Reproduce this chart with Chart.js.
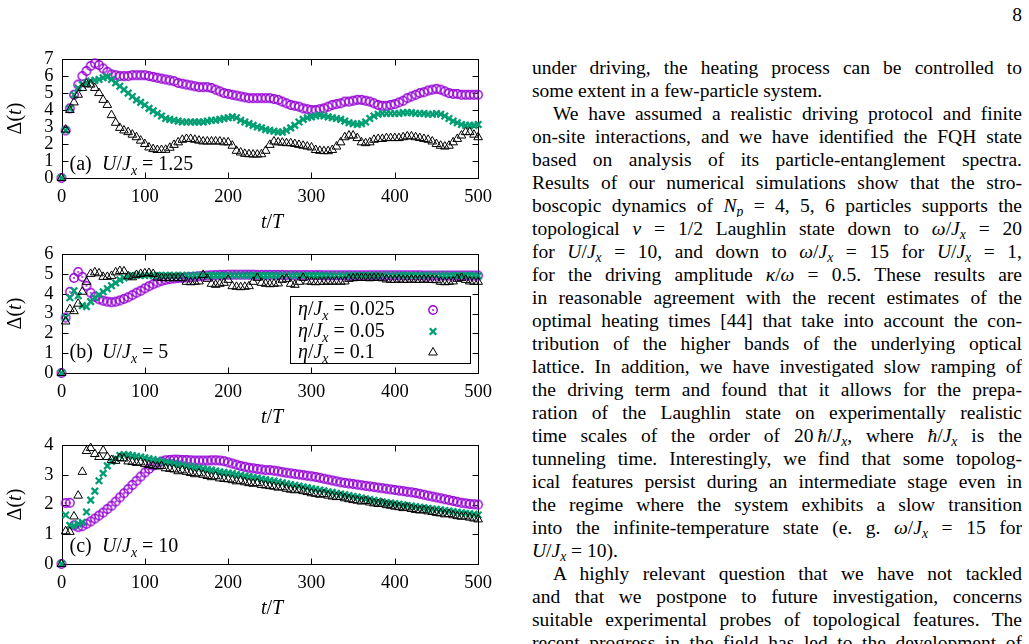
<!DOCTYPE html>
<html><head><meta charset="utf-8">
<script src="https://cdn.jsdelivr.net/npm/chart.js@4.4.1/dist/chart.umd.min.js"></script>
<style>
html,body{margin:0;padding:0;background:#fff;width:1029px;height:644px;overflow:hidden;position:relative;}
canvas.p{position:absolute;left:0;}
#col{position:absolute;left:532px;top:56px;width:490px;font-family:"Liberation Serif",serif;font-size:19.5px;color:#000;}
.ln{height:23px;line-height:23px;overflow:hidden;text-align:justify;text-align-last:justify;}
.ln.e{text-align-last:left;}
.ln.i{text-indent:21px;}
sub{font-size:70%;vertical-align:-0.3em;line-height:0;}
#pg{position:absolute;left:1000px;width:22px;text-align:right;top:3px;font-family:"Liberation Serif",serif;font-size:19.5px;line-height:23px;}
</style>
</head><body>
<canvas class="p" id="ca" width="500" height="195" style="top:40px"></canvas>
<canvas class="p" id="cb" width="500" height="195" style="top:235px"></canvas>
<canvas class="p" id="cc" width="500" height="195" style="top:426px"></canvas>
<div id="pg">8</div>
<div id="col">
<div class="ln">under driving, the heating process can be controlled to</div>
<div class="ln e">some extent in a few-particle system.</div>
<div class="ln i">We have assumed a realistic driving protocol and finite</div>
<div class="ln">on-site interactions, and we have identified the FQH state</div>
<div class="ln">based on analysis of its particle-entanglement spectra.</div>
<div class="ln">Results of our numerical simulations show that the stro-</div>
<div class="ln">boscopic dynamics of <i>N</i><sub><i>p</i></sub> = 4, 5, 6 particles supports the</div>
<div class="ln">topological <i>ν</i> = 1/2 Laughlin state down to <i>ω</i>/<i>J</i><sub><i>x</i></sub> = 20</div>
<div class="ln">for <i>U</i>/<i>J</i><sub><i>x</i></sub> = 10, and down to <i>ω</i>/<i>J</i><sub><i>x</i></sub> = 15 for <i>U</i>/<i>J</i><sub><i>x</i></sub> = 1,</div>
<div class="ln">for the driving amplitude <i>κ</i>/<i>ω</i> = 0.5. These results are</div>
<div class="ln">in reasonable agreement with the recent estimates of the</div>
<div class="ln">optimal heating times [44] that take into account the con-</div>
<div class="ln">tribution of the higher bands of the underlying optical</div>
<div class="ln">lattice. In addition, we have investigated slow ramping of</div>
<div class="ln">the driving term and found that it allows for the prepa-</div>
<div class="ln">ration of the Laughlin state on experimentally realistic</div>
<div class="ln">time scales of the order of 20&#8201;<i>ħ</i>/<i>J</i><sub><i>x</i></sub>, where <i>ħ</i>/<i>J</i><sub><i>x</i></sub> is the</div>
<div class="ln">tunneling time. Interestingly, we find that some topolog-</div>
<div class="ln">ical features persist during an intermediate stage even in</div>
<div class="ln">the regime where the system exhibits a slow transition</div>
<div class="ln">into the infinite-temperature state (e. g. <i>ω</i>/<i>J</i><sub><i>x</i></sub> = 15 for</div>
<div class="ln e"><i>U</i>/<i>J</i><sub><i>x</i></sub> = 10).</div>
<div class="ln i">A highly relevant question that we have not tackled</div>
<div class="ln">and that we postpone to future investigation, concerns</div>
<div class="ln">suitable experimental probes of topological features. The</div>
<div class="ln">recent progress in the field has led to the development of</div>
</div>
<script>
// ---- data ----
const tT = [0,5,10,15,20,25,30,35,40,45,50,55,60,65,70,75,80,85,90,95,100,105,110,115,120,125,130,135,140,145,150,155,160,165,170,175,180,185,190,195,200,205,210,215,220,225,230,235,240,245,250,255,260,265,270,275,280,285,290,295,300,305,310,315,320,325,330,335,340,345,350,355,360,365,370,375,380,385,390,395,400,405,410,415,420,425,430,435,440,445,450,455,460,465,470,475,480,485,490,495,500];
const etaLabels = ['0.025','0.05','0.1'];
const panelU = ['1.25','5','10'];
const panelTags = ['(a)','(b)','(c)'];
const yMaxes = [7,6,4];
const xTicks = [0,100,200,300,400,500];

// panel (a) U/Jx = 1.25
const a_eta0025 = [0,2.8,4.1,4.9,5.5,6.0,6.3,6.6,6.75,6.65,
6.45,6.25,6.1,6.05,6.0,6.0,6.0,6.05,6.05,6.05,
6.05,6.0,5.95,5.9,5.85,5.8,5.75,5.7,5.6,5.55,
5.5,5.45,5.4,5.35,5.35,5.35,5.3,5.2,5.1,5.0,
4.95,4.9,4.85,4.8,4.75,4.7,4.7,4.7,4.7,4.7,
4.7,4.65,4.6,4.5,4.4,4.3,4.25,4.2,4.1,4.05,
4.0,4.0,4.05,4.1,4.2,4.3,4.35,4.4,4.5,4.5,
4.55,4.6,4.6,4.55,4.5,4.4,4.3,4.25,4.25,4.3,
4.35,4.45,4.55,4.7,4.8,4.9,5.0,5.05,5.15,5.2,
5.25,5.2,5.1,5.0,4.95,4.95,4.9,4.9,4.9,4.9,
4.9];
const a_eta005 = [0,2.8,4.1,4.9,5.3,5.5,5.6,5.7,5.75,5.8,
5.9,5.95,5.8,5.6,5.4,5.2,5.0,4.8,4.6,4.45,
4.3,4.1,3.95,3.8,3.65,3.5,3.45,3.4,3.35,3.3,
3.3,3.3,3.3,3.3,3.3,3.35,3.4,3.4,3.45,3.5,
3.55,3.6,3.55,3.4,3.3,3.2,3.1,3.0,2.95,2.85,
2.8,2.75,2.7,2.7,2.8,2.95,3.1,3.3,3.45,3.55,
3.6,3.65,3.7,3.65,3.6,3.55,3.5,3.45,3.35,3.25,
3.2,3.15,3.2,3.3,3.5,3.65,3.75,3.8,3.8,3.8,
3.8,3.8,3.85,3.85,3.85,3.8,3.8,3.8,3.75,3.75,
3.8,3.75,3.65,3.5,3.35,3.25,3.15,3.1,3.1,3.1,
3.15];
const a_eta01 = [0,2.85,4.0,4.45,4.9,5.3,5.55,5.5,5.3,5.0,
4.6,4.3,3.7,3.25,2.95,2.8,2.7,2.55,2.4,2.2,
2.0,1.8,1.7,1.65,1.65,1.66,1.78,1.95,2.1,2.25,
2.3,2.3,2.25,2.2,2.15,2.15,2.15,2.15,2.15,2.1,
2.1,1.9,1.6,1.5,1.42,1.4,1.38,1.38,1.4,1.6,
1.95,2.15,2.1,2.08,2.05,2.05,2.0,1.95,1.9,1.85,
1.8,1.65,1.6,1.58,1.58,1.65,1.85,2.1,2.4,2.5,
2.5,2.35,2.1,2.05,2.1,2.25,2.3,2.3,2.35,2.35,
2.35,2.35,2.4,2.45,2.45,2.4,2.35,2.3,2.25,2.15,
2.0,1.9,1.85,1.9,2.1,2.3,2.5,2.7,2.7,2.55,
2.4];

// panel (b) U/Jx = 5
const b_eta0025 = [0,2.8,4.1,4.8,5.1,4.85,4.4,4.05,3.85,3.72,
3.65,3.6,3.57,3.6,3.66,3.74,3.82,3.93,4.05,4.15,
4.27,4.38,4.48,4.57,4.64,4.7,4.74,4.77,4.79,4.8,
4.82,4.84,4.86,4.88,4.9,4.92,4.93,4.94,4.95,4.95,
4.96,4.96,4.96,4.96,4.96,4.96,4.96,4.95,4.95,4.95,
4.95,4.95,4.95,4.95,4.94,4.94,4.94,4.94,4.94,4.94,
4.94,4.94,4.94,4.93,4.93,4.93,4.93,4.93,4.93,4.93,
4.93,4.93,4.93,4.93,4.93,4.93,4.93,4.93,4.93,4.93,
4.93,4.93,4.93,4.93,4.93,4.93,4.93,4.92,4.92,4.92,
4.92,4.92,4.92,4.92,4.92,4.92,4.92,4.92,4.92,4.92,
4.92];
const b_eta005 = [0,2.8,3.8,4.15,3.9,3.4,3.35,3.6,3.8,3.95,
4.1,4.25,4.4,4.55,4.7,4.8,4.88,4.92,4.93,4.93,
4.92,4.93,4.92,4.93,4.92,4.93,4.92,4.93,4.92,4.93,
4.92,4.93,4.92,4.93,4.92,4.93,4.92,4.93,4.92,4.93,
4.92,4.93,4.92,4.93,4.92,4.93,4.92,4.93,4.92,4.93,
4.92,4.93,4.92,4.93,4.92,4.93,4.92,4.93,4.92,4.93,
4.92,4.93,4.92,4.93,4.92,4.93,4.92,4.93,4.92,4.93,
4.92,4.93,4.92,4.93,4.92,4.93,4.92,4.93,4.92,4.93,
4.92,4.93,4.92,4.93,4.92,4.93,4.92,4.93,4.92,4.93,
4.92,4.93,4.92,4.93,4.92,4.93,4.92,4.93,4.92,4.93,
4.9];
const b_eta01 = [0,2.6,3.22,3.12,3.5,4.1,4.6,5.0,5.08,5.03,
4.85,4.85,4.9,5.08,5.15,5.13,4.88,4.83,4.95,5.0,
5.03,5.05,5.0,4.82,4.8,4.78,4.8,4.78,4.8,4.78,
4.6,4.58,4.6,4.62,4.95,4.75,4.5,4.45,4.5,4.55,
4.7,4.38,4.35,4.33,4.35,4.38,4.6,4.8,4.55,4.5,
4.48,4.5,4.52,4.7,4.75,4.5,4.45,4.6,4.8,4.62,
4.6,4.58,4.6,4.6,4.62,4.6,4.62,4.6,4.62,4.75,
4.78,4.8,4.8,4.8,4.78,4.8,4.8,4.78,4.72,4.7,
4.7,4.72,4.7,4.7,4.72,4.7,4.7,4.72,4.7,4.7,
4.68,4.6,4.58,4.6,4.62,4.75,4.8,4.7,4.62,4.6,
4.6];

// panel (c) U/Jx = 10
const c_eta0025 = [0,2.05,2.06,1.3,1.24,1.27,1.35,1.43,1.53,1.63,
1.73,1.85,1.96,2.1,2.24,2.38,2.52,2.66,2.8,2.94,
3.08,3.2,3.31,3.39,3.45,3.49,3.5,3.51,3.51,3.5,
3.5,3.49,3.48,3.48,3.48,3.48,3.49,3.49,3.48,3.46,
3.42,3.38,3.34,3.3,3.27,3.24,3.22,3.2,3.18,3.16,
3.16,3.14,3.12,3.09,3.07,3.05,3.03,3.01,2.99,2.97,
2.95,2.93,2.9,2.87,2.84,2.81,2.78,2.75,2.73,2.71,
2.69,2.67,2.65,2.63,2.61,2.59,2.57,2.55,2.53,2.51,
2.49,2.47,2.45,2.43,2.41,2.39,2.36,2.33,2.3,2.27,
2.24,2.21,2.18,2.15,2.12,2.09,2.06,2.04,2.02,2.01,
2.0];
const c_eta005 = [0,1.65,1.3,1.28,1.35,1.4,1.75,2.15,2.45,2.8,
3.05,3.3,3.45,3.55,3.65,3.68,3.67,3.65,3.62,3.6,
3.57,3.54,3.51,3.48,3.45,3.42,3.4,3.38,3.36,3.33,
3.3,3.28,3.26,3.23,3.2,3.18,3.16,3.13,3.1,3.08,
3.06,3.04,3.01,2.99,2.96,2.94,2.91,2.89,2.86,2.84,
2.81,2.79,2.76,2.73,2.7,2.67,2.65,2.62,2.59,2.57,
2.54,2.51,2.49,2.46,2.43,2.41,2.38,2.35,2.33,2.3,
2.27,2.25,2.22,2.19,2.17,2.14,2.12,2.09,2.07,2.05,
2.03,2.01,1.99,1.97,1.95,1.93,1.91,1.89,1.87,1.85,
1.84,1.82,1.8,1.78,1.76,1.74,1.72,1.7,1.69,1.67,
1.65];
const c_eta01 = [0,1.1,1.08,1.6,2.3,3.1,3.8,3.9,3.7,3.6,
3.82,3.6,3.5,3.47,3.57,3.55,3.45,3.43,3.4,3.42,
3.36,3.33,3.3,3.28,3.3,3.22,3.2,3.18,3.12,3.15,
3.1,3.06,3.02,3.05,3.0,2.96,2.92,2.95,2.88,2.86,
2.85,2.82,2.78,2.8,2.75,2.72,2.7,2.72,2.66,2.64,
2.62,2.6,2.57,2.58,2.53,2.5,2.48,2.5,2.45,2.42,
2.38,2.36,2.33,2.35,2.3,2.27,2.25,2.26,2.21,2.18,
2.15,2.13,2.1,2.12,2.07,2.04,2.02,2.03,1.98,1.96,
1.93,1.91,1.88,1.9,1.85,1.82,1.8,1.81,1.77,1.75,
1.72,1.7,1.67,1.68,1.64,1.61,1.59,1.6,1.56,1.53,
1.5];

// ---- styling ----
const FF = '"Liberation Serif", "Times New Roman", serif';
const PURPLE = '#9400d3', GREEN = '#009e73', BLACK = '#000000';
const FS = 18.5;   // tick labels
const FL = 20;     // math labels, legend, axis titles

function dotCircle(withDot){
  const c = document.createElement('canvas'); c.width = 12; c.height = 12;
  const x = c.getContext('2d');
  x.strokeStyle = PURPLE; x.lineWidth = 1.4;
  x.beginPath(); x.arc(6,6,4.2,0,Math.PI*2); x.stroke();
  if (withDot){ x.fillStyle = PURPLE; x.beginPath(); x.arc(6,6,0.9,0,Math.PI*2); x.fill(); }
  return c;
}
const circA = dotCircle(false), circBC = dotCircle(true);

function rich(ctx, segs, x, y, size, align){
  const f = s => (s[1]==='i'||s[1]==='s' ? 'italic ' : '') + (s[1]==='s' ? Math.round(size*0.7) : size) + 'px ' + FF;
  let w = 0;
  segs.forEach(s => { ctx.font = f(s); w += ctx.measureText(s[0]).width; });
  let cx = align==='center' ? x - w/2 : (align==='right' ? x - w : x);
  ctx.textAlign = 'left'; ctx.textBaseline = 'alphabetic'; ctx.fillStyle = '#000';
  segs.forEach(s => { ctx.font = f(s); ctx.fillText(s[0], cx, y + (s[1]==='s' ? size*0.25 : 0)); cx += ctx.measureText(s[0]).width; });
}

function makePanel(id, idx, series){
  const circ = idx === 0 ? circA : circBC;
  const styles = [
    {pointStyle: circ, pointRadius: 4, borderColor: PURPLE, backgroundColor: 'rgba(0,0,0,0)', pointBorderWidth: 1, order: 3},
    {pointStyle: 'crossRot', pointRadius: 4.6, borderColor: GREEN, backgroundColor: GREEN, pointBorderWidth: 2.3, order: 2},
    {pointStyle: 'triangle', pointRadius: 5, borderColor: BLACK, backgroundColor: 'rgba(255,255,255,0)', pointBorderWidth: 1, order: 1}
  ];
  const datasets = series.map((s, k) => Object.assign({
    label: 'eta/Jx = ' + etaLabels[k],
    data: tT.map((t, i) => ({x: t, y: s[i]})),
    showLine: false, clip: false, pointHoverRadius: 0
  }, styles[k]));
  const labelBase = [130, 122.5, 125.5][idx];
  const deco = {
    id: 'deco' + idx,
    beforeDatasetsDraw(chart){
      const {ctx, chartArea: a, scales} = chart;
      ctx.save(); ctx.strokeStyle = '#000'; ctx.lineWidth = 1;
      const L = Math.round(a.left)+0.5, R = Math.round(a.right)+0.5, T = Math.round(a.top)+0.5, B = Math.round(a.bottom)+0.5;
      ctx.strokeRect(L, T, R-L, B-T);
      ctx.beginPath();
      xTicks.forEach(v => { const p = Math.round(scales.x.getPixelForValue(v))+0.5;
        if (p > L+1 && p < R-1){ ctx.moveTo(p,B); ctx.lineTo(p,B-6); ctx.moveTo(p,T); ctx.lineTo(p,T+6);} });
      for (let v = 0; v <= yMaxes[idx]; v++){ const p = Math.round(scales.y.getPixelForValue(v))+0.5;
        if (p > T+1 && p < B-1){ ctx.moveTo(L,p); ctx.lineTo(L+6,p); ctx.moveTo(R,p); ctx.lineTo(R-6,p);} }
      ctx.stroke(); ctx.restore();
    },
    afterDraw(chart){
      const {ctx, chartArea: a} = chart;
      ctx.save();
      rich(ctx, [[panelTags[idx]]], 69.5, labelBase, FL, 'left');
      rich(ctx, [['U','i'],['/'],['J','i'],['x','s'],[' = ' + panelU[idx]]], 102, labelBase, FL, 'left');
      rich(ctx, [['t','i'],['/'],['T','i']], 272, 188, FL, 'center');
      ctx.save(); ctx.translate(21, (a.top + a.bottom)/2); ctx.rotate(-Math.PI/2);
      rich(ctx, [['Δ'],['('],['t','i'],[')']], 0, 0, FL, 'center'); ctx.restore();
      if (idx === 1){
        ctx.strokeStyle = '#000'; ctx.lineWidth = 1;
        ctx.fillStyle = '#fff';
        ctx.fillRect(290.5, 61.5, 180, 67);
        ctx.strokeRect(290.5, 61.5, 180, 67);
        const rows = [80, 101.5, 122.5];
        etaLabels.forEach((e, k) => {
          rich(ctx, [['η','i'],['/'],['J','i'],['x','s'],[' = ' + e]], 298, rows[k], FL, 'left');
          const st = styles[k];
          ctx.strokeStyle = st.borderColor; ctx.fillStyle = st.backgroundColor; ctx.lineWidth = st.pointBorderWidth;
          Chart.helpers.drawPoint(ctx, {pointStyle: st.pointStyle, radius: st.pointRadius, rotation: 0, borderWidth: st.pointBorderWidth}, 433, rows[k]-5);
        });
      }
      ctx.restore();
    }
  };
  return new Chart(document.getElementById(id), {
    type: 'scatter',
    data: {datasets},
    options: {
      responsive: false, animation: false, events: [],
      layout: {padding: {left: 0, right: 16.5, top: 17, bottom: 0}},
      plugins: {legend: {display: false}, tooltip: {enabled: false}},
      scales: {
        x: {type: 'linear', min: 0, max: 500,
            afterBuildTicks(s){ s.ticks = xTicks.map(v => ({value: v})); },
            ticks: {padding: 8, color: '#000', font: {family: FF, size: FS}, maxRotation: 0, autoSkip: false},
            grid: {display: false, drawTicks: false}, border: {display: false},
            afterFit(s){ s.height = 57; }},
        y: {min: 0, max: yMaxes[idx],
            ticks: {stepSize: 1, padding: 8, autoSkip: false, color: '#000', font: {family: FF, size: FS}},
            grid: {display: false, drawTicks: false}, border: {display: false},
            afterFit(s){ s.width = 61.5; }}
      }
    },
    plugins: [deco]
  });
}

makePanel('ca', 0, [a_eta0025, a_eta005, a_eta01]);
makePanel('cb', 1, [b_eta0025, b_eta005, b_eta01]);
makePanel('cc', 2, [c_eta0025, c_eta005, c_eta01]);
</script>
</body></html>
